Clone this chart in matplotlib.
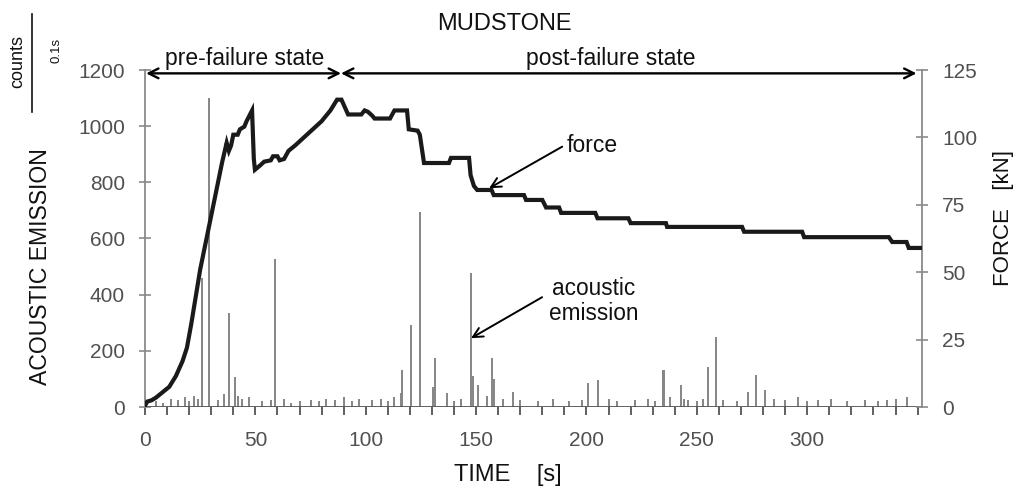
import matplotlib
matplotlib.use("Agg")
import matplotlib.pyplot as plt
from matplotlib.ticker import MultipleLocator

plt.rcParams['font.family'] = ['Liberation Sans', 'DejaVu Sans']

# ---- data ----
force_t = [0, 1, 3, 5, 8, 11, 14, 17, 19, 21, 23, 25, 27, 29, 31, 33, 35, 37, 38, 39,
           40, 42, 43, 45, 46, 48.5, 49.3, 49.8, 52, 54, 57, 58, 60, 61, 63, 65, 68,
           72, 76, 80, 84, 87, 89, 92, 98, 99.5, 101, 103, 104, 111, 113, 118.7,
           119.5, 123.5, 124.5, 126.4, 137.7, 138.6, 146.8, 147.5, 149, 150.5, 157,
           158, 171.7, 172.6, 180, 181.7, 187.6, 188.5, 204, 205, 219, 220, 236,
           236.5, 270.5, 271.4, 297.7, 298.6, 337, 338.5, 345, 346, 352]
force_kn = [0.5, 2, 2.5, 3.5, 5.5, 7.5, 11.5, 17, 22, 31, 41, 51, 59, 67, 75, 83, 91,
            98, 95, 97, 101, 101, 103, 104, 106, 110, 92, 88, 89.5, 91, 91.5, 93, 93,
            91.5, 92, 95, 97, 100, 103, 106, 110, 114, 114, 108.5, 108.5, 110, 109.5,
            108, 107, 107, 110, 110, 103, 102.5, 101, 90.5, 90.5, 92.4, 92.4, 86,
            82, 80.5, 80.5, 78.6, 78.6, 76.8, 76.8, 74, 74, 72, 72, 70, 70, 68.2,
            68.2, 66.8, 66.8, 65, 65, 63, 63, 61.2, 61.2, 59, 59]

ae_t = [25.8, 29, 38, 40.8, 59, 116, 116.5, 120.7, 124.6, 130.5, 131.4, 136.7,
        147.7, 148.5, 151, 157, 158.3, 162, 166.7, 200.7, 205, 234.5, 235.3, 242.8,
        244, 255, 258.7, 273, 276.8, 281, 296,
        5, 8, 12, 15, 18, 20, 22, 24, 33, 36, 42, 44, 47, 53, 57, 63, 66, 70, 75,
        79, 82, 86, 90, 94, 97, 103, 107, 110, 113, 140, 143, 155, 170, 178, 185,
        192, 198, 210, 214, 222, 228, 231, 238, 246, 250, 253, 262, 268, 285, 290,
        300, 305, 311, 318, 326, 332, 336, 340, 345]
ae_counts = [460, 1100, 335, 107, 527, 50, 130, 292, 694, 70, 174, 50,
             477, 110, 78, 174, 100, 30, 55, 85, 95, 130, 130, 78,
             30, 142, 250, 55, 114, 60, 35,
             20, 15, 30, 25, 35, 20, 40, 30, 25, 45, 40, 30, 35, 20, 25, 30, 15, 20, 25,
             20, 30, 25, 35, 20, 30, 25, 30, 20, 35, 20, 30, 40, 25, 20, 30,
             20, 25, 30, 20, 25, 30, 20, 35, 25, 20, 30, 25, 20, 30, 25,
             20, 25, 30, 20, 25, 20, 25, 30, 35]

x_ticks = [0, 50, 100, 150, 200, 250, 300]
ae_ticks = [0, 200, 400, 600, 800, 1000, 1200]
force_ticks = [0, 25, 50, 75, 100, 125]

# ---- figure ----
W, H = 1016, 486
fig = plt.figure(figsize=(W / 100, H / 100), dpi=100)
ax = fig.add_axes([145 / W, (H - 407) / H, (922 - 145) / W, (407 - 70) / H])
ax2 = ax.twinx()

ax.vlines(ae_t, 0, ae_counts, colors='#858585', linewidth=1.4, zorder=2)
ax.axhline(0, color='#555555', linewidth=1.3, zorder=3)
ax2.plot(force_t, force_kn, color='#1a1a1a', linewidth=3.0, solid_joinstyle='miter', zorder=4)

ax.set_xlim(0, 352)
ax.set_ylim(0, 1200)
ax2.set_ylim(0, 125)
ax.set_xticks(x_ticks)
ax.xaxis.set_minor_locator(MultipleLocator(10))
ax.set_yticks(ae_ticks)
ax2.set_yticks(force_ticks)

for a in (ax, ax2):
    a.spines['top'].set_visible(False)
    a.spines['bottom'].set_visible(False)
    for s in ('left', 'right'):
        a.spines[s].set_color('#8a8a8a')
        a.spines[s].set_linewidth(1.3)
ax.spines['right'].set_visible(False)
ax2.spines['left'].set_visible(False)

tick_color = '#505050'
ax.tick_params(axis='x', which='both', direction='out', length=6, width=1.2,
               color='#444444', labelcolor=tick_color, labelsize=15, pad=11)
ax.tick_params(axis='y', direction='inout', length=9, width=1.2, color='#8a8a8a',
               labelcolor=tick_color, labelsize=15, pad=10)
ax2.tick_params(axis='y', direction='inout', length=9, width=1.2, color='#8a8a8a',
                labelcolor=tick_color, labelsize=15, pad=10)

ax.set_zorder(2)
ax2.set_zorder(3)
ax.patch.set_visible(False)

txt = '#111111'
# axis labels
fig.text(41 / W, 1 - 267 / H, 'ACOUSTIC EMISSION', rotation=90, ha='center', va='center',
         fontsize=16.6, color=txt)
fig.text(1004 / W, 1 - 218 / H, 'FORCE   [kN]', rotation=90, ha='center', va='center',
         fontsize=16, color=txt)
fig.text(508 / W, 1 - 481 / H, 'TIME    [s]', ha='center', va='baseline',
         fontsize=17, color=txt)
fig.text(504.5 / W, 1 - 30 / H, 'MUDSTONE', ha='center', va='baseline',
         fontsize=17, color=txt)
# counts / 0.1s unit
fig.text(18 / W, 1 - 62 / H, 'counts', rotation=90, ha='center', va='center',
         fontsize=13, color=txt)
fig.text(57 / W, 1 - 50 / H, '0.1s', rotation=90, ha='center', va='center',
         fontsize=9.5, color=txt)
fig.add_artist(plt.Line2D([32 / W, 32 / W], [1 - 14 / H, 1 - 112 / H],
                          transform=fig.transFigure, color=txt, linewidth=1.2))

# state arrows
arrow_kw = dict(arrowstyle='<->,head_length=0.7,head_width=0.35', color='black',
                linewidth=1.7, shrinkA=0, shrinkB=0)
ax.annotate('', xy=(0.5, 1188), xytext=(88.8, 1188), arrowprops=arrow_kw,
            annotation_clip=False)
ax.annotate('', xy=(88.8, 1188), xytext=(349.5, 1188), arrowprops=arrow_kw,
            annotation_clip=False)
ax.text(45.3, 1218, 'pre-failure state', ha='center', va='baseline', fontsize=16.5,
        color=txt, clip_on=False)
ax.text(211, 1218, 'post-failure state', ha='center', va='baseline', fontsize=16.5,
        color=txt, clip_on=False)

# callouts
call_kw = dict(arrowstyle='->,head_length=0.7,head_width=0.35', color='black',
               linewidth=1.4, shrinkA=0, shrinkB=0)
ax.annotate('', xy=(155.9, 779), xytext=(189.0, 927), arrowprops=call_kw)
ax.text(190.8, 908, 'force', ha='left', va='baseline', fontsize=16.5, color=txt)
ax.annotate('', xy=(147.7, 245), xytext=(179.9, 391), arrowprops=call_kw)
ax.text(203.4, 399, 'acoustic', ha='center', va='baseline', fontsize=16.3, color=txt)
ax.text(203.4, 310, 'emission', ha='center', va='baseline', fontsize=16.3, color=txt)

fig.savefig('out.png', dpi=100)
